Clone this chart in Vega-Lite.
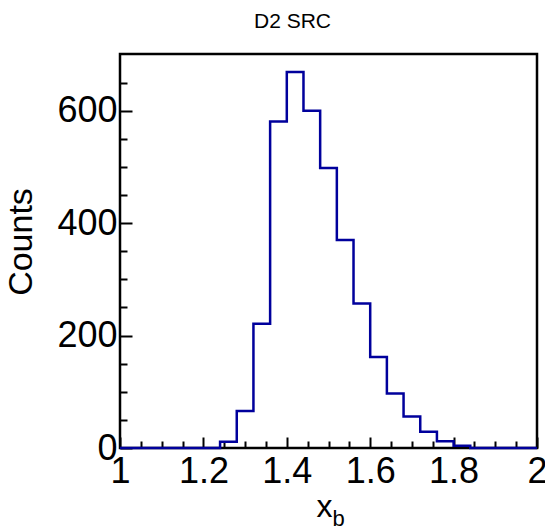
{
  "$schema": "https://vega.github.io/schema/vega-lite/v6.json",
  "width": 417,
  "height": 394,
  "autosize": {"type": "none"},
  "padding": {"left": 120, "top": 54, "right": 8, "bottom": 84},
  "title": {"text": "D2 SRC", "font": "Liberation Sans", "fontSize": 21, "fontWeight": "normal", "color": "black", "anchor": "middle", "frame": "group", "dx": -36, "baseline": "alphabetic", "offset": 5},
  "data": {"values": [
    {"xb": 1.00, "counts": 0},
    {"xb": 1.24, "counts": 11},
    {"xb": 1.28, "counts": 66},
    {"xb": 1.32, "counts": 221},
    {"xb": 1.36, "counts": 581},
    {"xb": 1.40, "counts": 669},
    {"xb": 1.44, "counts": 600},
    {"xb": 1.48, "counts": 498},
    {"xb": 1.52, "counts": 370},
    {"xb": 1.56, "counts": 257},
    {"xb": 1.60, "counts": 162},
    {"xb": 1.64, "counts": 97},
    {"xb": 1.68, "counts": 56},
    {"xb": 1.72, "counts": 29},
    {"xb": 1.76, "counts": 12},
    {"xb": 1.80, "counts": 4},
    {"xb": 1.84, "counts": 0},
    {"xb": 2.00, "counts": 0}
  ]},
  "config": {
    "view": {"stroke": "black", "strokeWidth": 2.5},
    "axis": {"zindex": 1, "domain": false, "labelFont": "Liberation Sans", "labelFontSize": 36, "labelColor": "black", "titleFont": "Liberation Sans", "titleFontWeight": "normal", "titleColor": "black"}
  },
  "layer": [
    {
      "mark": {"type": "line", "interpolate": "step-after", "color": "#00009c", "strokeWidth": 2.5},
      "encoding": {
        "x": {"field": "xb", "type": "quantitative", "scale": {"domain": [1, 2], "nice": false, "zero": false},
          "axis": {"orient": "bottom", "values": [1, 1.2, 1.4, 1.6, 1.8, 2], "format": "~g", "ticks": false, "grid": true, "gridColor": "#000000", "gridWidth": 2, "gridOpacity": 1, "gridDash": [11, 383], "gridDashOffset": 11, "labelPadding": 6, "labelFlush": false, "labelOverlap": false, "title": "x", "titleFontSize": 32, "titleX": 204, "titleY": 68, "titleBaseline": "alphabetic", "titleAlign": "center"}},
        "y": {"field": "counts", "type": "quantitative", "scale": {"domain": [0, 701], "nice": false},
          "axis": {"orient": "left", "values": [0, 200, 400, 600], "ticks": false, "grid": true, "gridColor": "#000000", "gridWidth": 2, "gridOpacity": 1, "gridDash": [12, 1000], "labelPadding": 3, "labelFlush": false, "labelOverlap": false, "title": "Counts", "titleFontSize": 34, "titleAngle": 270, "titleX": -89, "titleY": 187.5, "titleBaseline": "alphabetic", "titleAlign": "center"}}
      }
    },
    {
      "mark": {"type": "line", "interpolate": "step-after", "strokeOpacity": 0},
      "encoding": {
        "x": {"field": "xb", "type": "quantitative",
          "axis": {"orient": "bottom", "values": [1.05, 1.1, 1.15, 1.25, 1.3, 1.35, 1.45, 1.5, 1.55, 1.65, 1.7, 1.75, 1.85, 1.9, 1.95], "ticks": false, "grid": true, "gridColor": "#000000", "gridWidth": 2, "gridOpacity": 1, "gridDash": [7, 387], "gridDashOffset": 7, "labels": false, "title": "b", "titleFontSize": 22, "titleX": 212, "titleY": 77, "titleBaseline": "alphabetic", "titleAlign": "left"}},
        "y": {"field": "counts", "type": "quantitative",
          "axis": {"orient": "left", "values": [50, 100, 150, 250, 300, 350, 450, 500, 550, 650], "ticks": false, "grid": true, "gridColor": "#000000", "gridWidth": 2, "gridOpacity": 1, "gridDash": [7, 1000], "labels": false, "title": null}}
      }
    }
  ],
  "resolve": {"axis": {"x": "independent", "y": "independent"}}
}
